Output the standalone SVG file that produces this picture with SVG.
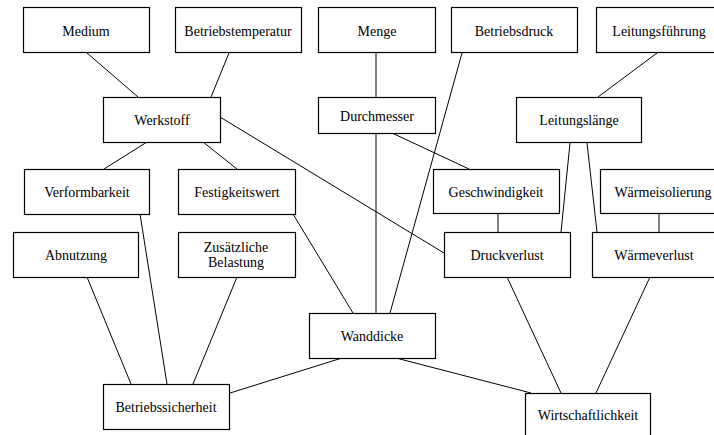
<svg xmlns="http://www.w3.org/2000/svg" width="714" height="435" viewBox="0 0 714 435" font-family="Liberation Serif, Times New Roman, serif" font-size="14">
<style>
rect{fill:#fff;stroke:#000;stroke-width:1.2}
text{fill:#000;text-anchor:middle}
#connectors line{stroke:#000;stroke-width:1}
</style>
<rect x="0" y="0" width="714" height="435" style="stroke:none"/>
<g id="connectors">
<line x1="87" y1="53" x2="138" y2="97"/>
<line x1="229" y1="53" x2="211" y2="97"/>
<line x1="376" y1="53" x2="376" y2="97"/>
<line x1="376" y1="133" x2="376" y2="313"/>
<line x1="462" y1="53" x2="390" y2="313"/>
<line x1="657" y1="53" x2="598" y2="97"/>
<line x1="147" y1="142" x2="104" y2="169"/>
<line x1="203" y1="142" x2="237" y2="169"/>
<line x1="220" y1="117" x2="444" y2="253"/>
<line x1="392" y1="133" x2="469" y2="169"/>
<line x1="570" y1="143" x2="561" y2="232"/>
<line x1="587" y1="143" x2="597" y2="232"/>
<line x1="498" y1="214" x2="498" y2="232"/>
<line x1="659" y1="213" x2="659" y2="232"/>
<line x1="140" y1="214" x2="167" y2="384"/>
<line x1="293" y1="214" x2="353" y2="313"/>
<line x1="87" y1="277" x2="131" y2="384"/>
<line x1="237" y1="277" x2="193" y2="384"/>
<line x1="342" y1="358" x2="230" y2="393"/>
<line x1="396" y1="358" x2="531" y2="393"/>
<line x1="507" y1="277" x2="561" y2="393"/>
<line x1="650" y1="277" x2="596" y2="393"/>
</g>
<g id="medium"><rect x="23.5" y="7.5" width="126" height="45"/><text x="86" y="35.5">Medium</text></g>
<g id="betriebstemperatur"><rect x="175.5" y="7.5" width="126" height="45"/><text x="238" y="35.5">Betriebstemperatur</text></g>
<g id="menge"><rect x="318.5" y="7.5" width="117" height="45"/><text x="377" y="35.5">Menge</text></g>
<g id="betriebsdruck"><rect x="451.5" y="7.5" width="126" height="45"/><text x="514" y="35.5">Betriebsdruck</text></g>
<g id="leitungsfuehrung"><rect x="596.5" y="7.5" width="126" height="45"/><text x="659" y="35.5">Leitungsführung</text></g>
<g id="werkstoff"><rect x="103.5" y="97.5" width="117" height="45"/><text x="162" y="125">Werkstoff</text></g>
<g id="durchmesser"><rect x="318.5" y="97.5" width="117" height="36"/><text x="377" y="121">Durchmesser</text></g>
<g id="leitungslaenge"><rect x="516.5" y="97.5" width="125" height="45"/><text x="579" y="125">Leitungslänge</text></g>
<g id="verformbarkeit"><rect x="24.5" y="169.5" width="125" height="45"/><text x="87" y="197">Verformbarkeit</text></g>
<g id="festigkeitswert"><rect x="178.5" y="169.5" width="117" height="45"/><text x="237" y="197">Festigkeitswert</text></g>
<g id="geschwindigkeit"><rect x="433.5" y="169.5" width="126" height="44"/><text x="496" y="197">Geschwindigkeit</text></g>
<g id="waermeisolierung"><rect x="600.5" y="169.5" width="126" height="44"/><text x="663" y="197">Wärmeisolierung</text></g>
<g id="abnutzung"><rect x="13.5" y="232.5" width="125" height="45"/><text x="76" y="260">Abnutzung</text></g>
<g id="zusaetzliche-belastung"><rect x="178.5" y="232.5" width="117" height="45"/><text x="236" y="252">Zusätzliche</text><text x="236" y="267">Belastung</text></g>
<g id="druckverlust"><rect x="444.5" y="232.5" width="126" height="45"/><text x="507" y="260">Druckverlust</text></g>
<g id="waermeverlust"><rect x="592.5" y="232.5" width="126" height="45"/><text x="654" y="260">Wärmeverlust</text></g>
<g id="wanddicke"><rect x="309.5" y="313.5" width="126" height="45"/><text x="372" y="341">Wanddicke</text></g>
<g id="betriebssicherheit"><rect x="103.5" y="384.5" width="126" height="45"/><text x="166" y="412">Betriebssicherheit</text></g>
<g id="wirtschaftlichkeit"><rect x="525.5" y="393.5" width="125" height="46"/><text x="588" y="420">Wirtschaftlichkeit</text></g>
</svg>
